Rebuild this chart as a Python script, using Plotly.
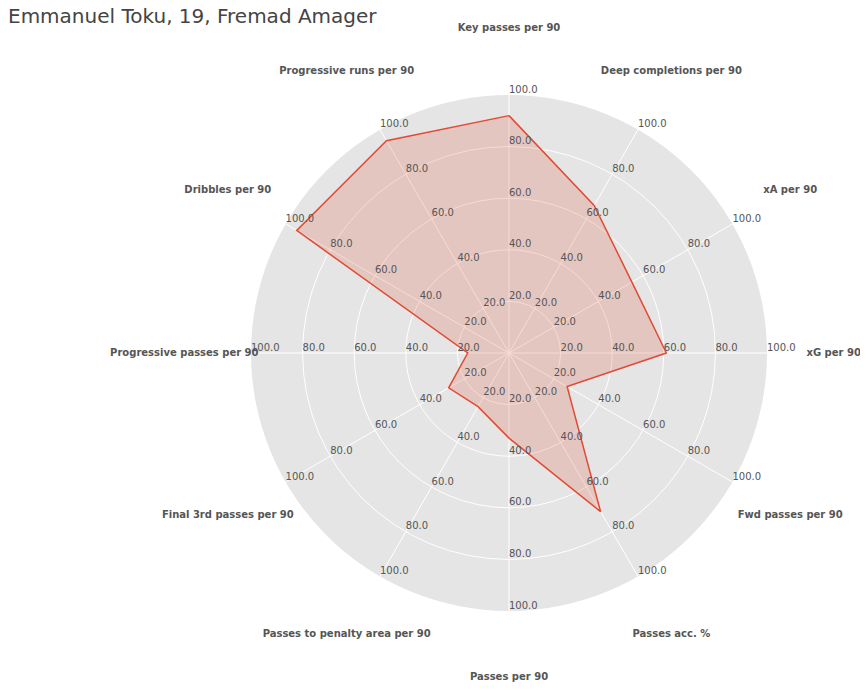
import plotly.graph_objects as go

PLAYER = "Emmanuel Toku, 19, Fremad Amager"

# clockwise from the top
CATEGORIES = [
    "Key passes per 90", "Deep completions per 90", "xA per 90", "xG per 90",
    "Fwd passes per 90", "Passes acc. %", "Passes per 90",
    "Passes to penalty area per 90", "Final 3rd passes per 90",
    "Progressive passes per 90", "Dribbles per 90", "Progressive runs per 90",
]
VALUES = [92, 66, 55, 61, 26, 71, 33, 24, 27, 16, 95, 95]
TICKS = [20, 40, 60, 80, 100]
LABEL_R = 126

RED = "#E24A33"
TXT = "#555555"

fig = go.Figure()

# player shape
fig.add_trace(go.Scatterpolar(
    r=VALUES + VALUES[:1],
    theta=CATEGORIES + CATEGORIES[:1],
    mode="lines",
    line=dict(color=RED, width=1.5),
    fill="toself",
    fillcolor="rgba(226,74,51,0.2)",
    hoverinfo="skip",
))

# tick labels along every spoke
tick_r, tick_t, tick_txt = [], [], []
for c in CATEGORIES:
    for t in TICKS:
        tick_r.append(t)
        tick_t.append(c)
        tick_txt.append(f"{t:.1f}")
fig.add_trace(go.Scatterpolar(
    r=tick_r, theta=tick_t, text=tick_txt,
    mode="text", textposition="top right",
    textfont=dict(family="DejaVu Sans", size=10, color=TXT),
    hoverinfo="skip", cliponaxis=False,
))

# category names on a wider, invisible polar overlay
fig.add_trace(go.Scatterpolar(
    r=[LABEL_R] * len(CATEGORIES), theta=CATEGORIES, text=CATEGORIES,
    mode="text", textposition="middle center",
    textfont=dict(family="DejaVu Sans", size=10, color=TXT, weight="bold"),
    hoverinfo="skip", cliponaxis=False, subplot="polar2",
))

angular = dict(
    type="category", categoryarray=CATEGORIES,
    rotation=90, direction="clockwise",
    showticklabels=False, ticks="", showline=False,
)

fig.update_layout(
    width=868, height=690,
    margin=dict(l=0, r=0, t=0, b=0),
    paper_bgcolor="white",
    showlegend=False,
    title=dict(
        text=PLAYER, x=0, xanchor="left",
        y=1 - 8 / 690, yanchor="middle",
        font=dict(family="DejaVu Sans", size=20, color="#444444"),
    ),
    polar=dict(
        domain=dict(x=[243 / 868, 759 / 868], y=[87 / 690, 603 / 690]),
        bgcolor="#E5E5E5",
        radialaxis=dict(
            range=[0, 100], tickvals=TICKS[:-1], showticklabels=False,
            showline=False, ticks="", gridcolor="white", gridwidth=1,
        ),
        angularaxis=dict(angular, gridcolor="white", gridwidth=1),
    ),
    polar2=dict(
        domain=dict(x=[166 / 868, 836 / 868], y=[10 / 690, 680 / 690]),
        bgcolor="rgba(0,0,0,0)",
        radialaxis=dict(range=[0, 130], visible=False, showgrid=False),
        angularaxis=dict(angular, showgrid=False),
    ),
)

fig.write_html("out.html")
